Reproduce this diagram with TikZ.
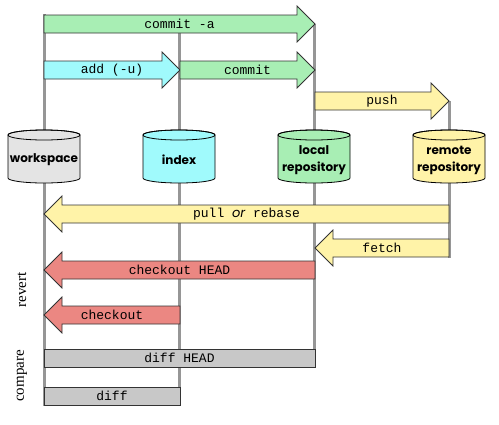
\documentclass[tikz,border=0pt]{standalone}
\usepackage{fontspec}
\setmainfont{Liberation Serif}
\setmonofont{Liberation Mono}
\newfontfamily\repofont{Poppins}
\usepackage{tikz}

\definecolor{gitgreen}{RGB}{168,238,180}
\definecolor{gitcyan}{RGB}{160,250,252}
\definecolor{gityellow}{RGB}{255,243,168}
\definecolor{gitred}{RGB}{235,135,130}
\definecolor{gitgray}{RGB}{200,200,200}
\definecolor{wsgray}{RGB}{228,228,228}
\definecolor{lanegray}{RGB}{150,150,150}

\begin{document}
\begin{tikzpicture}[x=1pt,y=-1pt,
    lane/.style={lanegray,line width=3pt},
    bigarrow/.style={draw=black!80,line width=0.8pt},
    cmd/.style={font=\ttfamily\fontsize{13}{15}\selectfont,inner sep=0pt},
    repo/.style={font=\repofont\bfseries\fontsize{12}{17}\selectfont,align=center,inner sep=0pt},
    side/.style={font=\fontsize{15}{18}\selectfont,rotate=90,inner sep=0pt}]
  \useasboundingbox (0,0) rectangle (499,424);

  % lanes
  \foreach \x/\ytop/\ybot in {44/14/406, 179/33/406, 314/24/367, 449/101/258}
    \draw[lane] (\x,\ytop) -- (\x,\ybot);

  % repositories
  \foreach \x/\col/\nm/\txt in {44/wsgray/workspace/workspace, 179/gitcyan/index/index,
      314/gitgreen/local/{local\\repository}, 449/gityellow/remote/{remote\\repository}}{
    \filldraw[fill=\col,draw=black,line width=0.8pt]
      (\x-36,135) -- (\x-36,178) arc(180:0:36 and 5) -- (\x+36,135) arc(0:-180:36 and 5) -- cycle;
    \draw[line width=0.8pt] (\x,135) ellipse (36 and 5);
    \node[repo] (\nm) at (\x,160) {\txt};
  }

  % arrows to the right
  \foreach \xa/\xb/\yy/\col/\nm/\txt in {44/315/24/gitgreen/commita/commit -a,
      44/180/70/gitcyan/add/add (-u), 180/315/70/gitgreen/commit/commit,
      315/449/101/gityellow/push/push}{
    \filldraw[bigarrow,fill=\col] (\xa,\yy-9) -- (\xb-18,\yy-9) -- (\xb-18,\yy-18) -- (\xb,\yy)
      -- (\xb-18,\yy+18) -- (\xb-18,\yy+9) -- (\xa,\yy+9) -- cycle;
    \node[cmd] (\nm) at ({(\xa+\xb)/2},\yy) {\txt};
  }

  % arrows to the left
  \foreach \xa/\xb/\yy/\col/\nm/\txt in {449/44/214/gityellow/pull/{pull {\repofont\itshape or} rebase},
      449/315/248/gityellow/fetch/fetch, 315/44/270/gitred/checkouthead/checkout HEAD,
      180/44/315/gitred/checkout/checkout}{
    \filldraw[bigarrow,fill=\col] (\xa,\yy-9) -- (\xb+18,\yy-9) -- (\xb+18,\yy-18) -- (\xb,\yy)
      -- (\xb+18,\yy+18) -- (\xb+18,\yy+9) -- (\xa,\yy+9) -- cycle;
    \node[cmd] (\nm) at ({(\xa+\xb)/2},\yy) {\txt};
  }

  % comparisons
  \foreach \xb/\yy/\nm/\txt in {315/358/diffhead/diff HEAD, 180/396/diff/diff}{
    \filldraw[bigarrow,fill=gitgray] (44,\yy-9) rectangle (\xb,\yy+9);
    \node[cmd] (\nm) at ({(44+\xb)/2},\yy) {\txt};
  }

  \node[side] (revert) at (22,290) {revert};
  \node[side] (compare) at (22,376) {compare};
\end{tikzpicture}
\end{document}
